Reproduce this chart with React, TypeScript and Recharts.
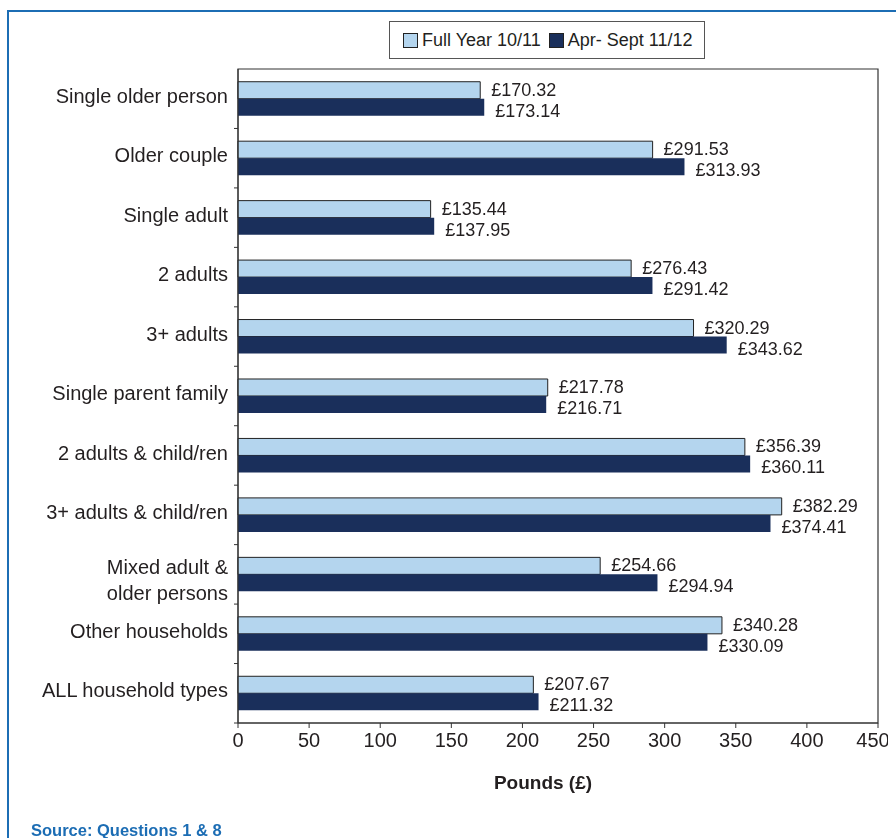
import React from 'react';
import { BarChart, Bar, XAxis, YAxis, Legend, LabelList, ReferenceArea } from 'recharts';

const householdTypes = [
  'Single older person',
  'Older couple',
  'Single adult',
  '2 adults',
  '3+ adults',
  'Single parent family',
  '2 adults & child/ren',
  '3+ adults & child/ren',
  'Mixed adult &\nolder persons',
  'Other households',
  'ALL household types',
];
const fullYear1011 = [170.32, 291.53, 135.44, 276.43, 320.29, 217.78, 356.39, 382.29, 254.66, 340.28, 207.67];
const aprSept1112 = [173.14, 313.93, 137.95, 291.42, 343.62, 216.71, 360.11, 374.41, 294.94, 330.09, 211.32];
const xTicks = [0, 50, 100, 150, 200, 250, 300, 350, 400, 450];

const LIGHT = '#b4d5ee';
const DARK = '#1a2f5b';
const INK = '#231f20';
const FRAME = '#1c6db4';
const FONT = '"Liberation Sans", Arial, sans-serif';

const CHART_W = 888;
const CHART_H = 800;
const MARGIN = { top: 61, right: 10, bottom: 15, left: 0 };
const X_AXIS_H = 70;
// half of one category band, for the boundary tick marks on the left axis
const HALF_BAND = (CHART_H - MARGIN.top - MARGIN.bottom - X_AXIS_H) / householdTypes.length / 2;

const data = householdTypes.map((name, i) => ({
  name,
  full: fullYear1011[i],
  half: aprSept1112[i],
}));

const CategoryTick = ({ x, y, payload }: any) => {
  const lines = String(payload.value).split('\n');
  const shift = lines.length > 1 ? -8 : -3;
  const axisX = x + 10;
  return (
    <g>
      <line x1={axisX - 4} x2={axisX} y1={y + HALF_BAND} y2={y + HALF_BAND} stroke="#333" />
      <text x={x} y={y + shift} textAnchor="end" fill={INK} fontSize={20} fontFamily={FONT}>
        {lines.map((l, i) => (
          <tspan key={i} x={x} dy={i === 0 ? '0.36em' : 26}>{l}</tspan>
        ))}
      </text>
    </g>
  );
};

const valueLabel = (dy: number) => (props: any) => {
  const { x, y, width, height, value } = props;
  return (
    <text x={x + width + 11} y={y + height / 2 + dy} dy="0.36em" fill={INK} fontSize={18} fontFamily={FONT}>
      {`£${Number(value).toFixed(2)}`}
    </text>
  );
};

const LegendBox = () => (
  <div style={{
    display: 'flex', alignItems: 'center', border: '1px solid #555', background: '#fff',
    height: 36, padding: '0 11px 0 13px', fontFamily: FONT, fontSize: 18, color: INK, whiteSpace: 'nowrap',
  }}>
    <span style={{ width: 13, height: 13, background: LIGHT, border: '1.5px solid #222', marginRight: 4 }} />
    <span style={{ marginRight: 8 }}>Full Year 10/11</span>
    <span style={{ width: 13, height: 13, background: DARK, border: '1.5px solid #222', marginRight: 4 }} />
    <span>Apr- Sept 11/12</span>
  </div>
);

export default function App() {
  return (
    <div style={{ position: 'relative', width: CHART_W, height: CHART_H, fontFamily: FONT }}>
      <style>{'.recharts-surface { overflow: visible; }'}</style>
      <div style={{
        position: 'fixed', left: 7, top: 10, width: 900, height: 900,
        borderLeft: `2.5px solid ${FRAME}`, borderTop: `2.5px solid ${FRAME}`,
      }} />
      <BarChart
        width={CHART_W - 8}
        height={CHART_H}
        data={data}
        layout="vertical"
        margin={MARGIN}
        barCategoryGap="21.4%"
        barGap={0}
        style={{ overflow: 'visible' }}
      >
        <YAxis
          yAxisId="cat"
          type="category"
          dataKey="name"
          width={230}
          axisLine={{ stroke: '#333' }}
          tickLine={false}
          tickSize={0}
          tickMargin={10}
          tick={<CategoryTick />}
          interval={0}
        />
        <XAxis
          type="number"
          domain={[0, 450]}
          ticks={xTicks}
          height={X_AXIS_H}
          axisLine={{ stroke: '#333' }}
          tickLine={{ stroke: '#333' }}
          tickSize={5}
          tickMargin={5}
          tick={{ fill: INK, fontSize: 20, fontFamily: FONT }}
          label={{ value: 'Pounds (£)', position: 'insideBottom', offset: 4, dx: -15, fill: INK, fontSize: 19, fontWeight: 'bold', fontFamily: FONT }}
        />
        <ReferenceArea yAxisId="cat" x1={0} x2={450} fill="none" fillOpacity={0} stroke="#333" strokeWidth={1.2} ifOverflow="visible" />
        <Legend
          layout="horizontal"
          verticalAlign="middle"
          content={<LegendBox />}
          wrapperStyle={{ top: 13, left: 381, width: 'auto' }}
        />
        <Bar yAxisId="cat" dataKey="full" name="Full Year 10/11" fill={LIGHT} stroke="#222" strokeWidth={1} isAnimationActive={false}>
          <LabelList dataKey="full" content={valueLabel(-1)} />
        </Bar>
        <Bar yAxisId="cat" dataKey="half" name="Apr- Sept 11/12" fill={DARK} isAnimationActive={false}>
          <LabelList dataKey="half" content={valueLabel(3)} />
        </Bar>
      </BarChart>
      <div style={{
        position: 'fixed', left: 31, top: 822, fontSize: 16.5, lineHeight: '16.5px',
        fontWeight: 'bold', color: FRAME, fontFamily: FONT, whiteSpace: 'nowrap',
      }}>
        Source: Questions 1 &amp; 8
      </div>
    </div>
  );
}
